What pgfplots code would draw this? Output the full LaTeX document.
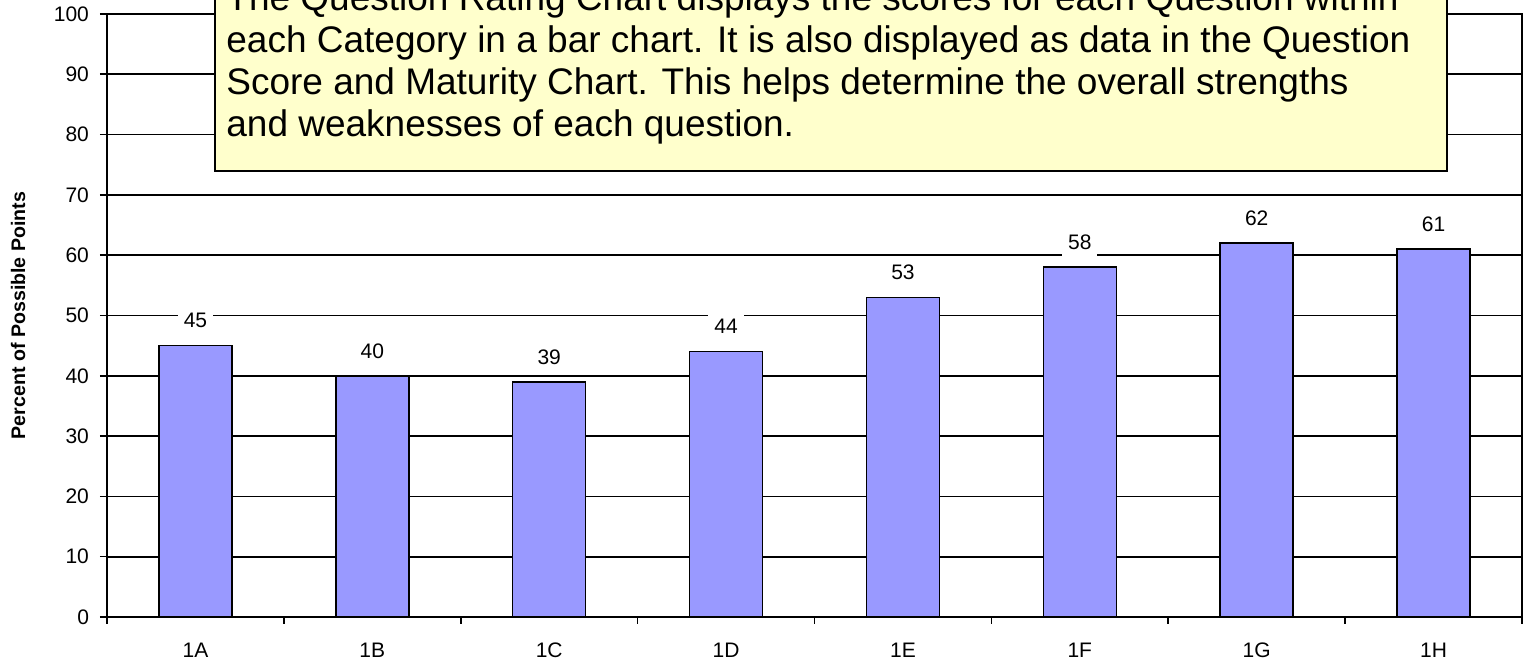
\documentclass[border=0pt]{standalone}
\usepackage{pgfplots}
\pgfplotsset{compat=1.18}
\usepackage{fontspec}
\setmainfont{Liberation Sans}
\definecolor{barblue}{RGB}{153,153,255}
\definecolor{noteyellow}{RGB}{255,255,204}
\begin{document}
\begin{tikzpicture}
\useasboundingbox (-53.5pt,-23pt) rectangle (710pt,308.5pt);
\clip (-53.5pt,-23pt) rectangle (710pt,308.5pt);
\begin{axis}[
  at={(0,0)}, anchor=south west,
  scale only axis, width=707.5pt, height=301.5pt,
  xmin=0, xmax=8, ymin=0, ymax=100,
  ybar, bar width=36.5pt,
  axis line style={line width=1pt},
  tick align=outside,
  xtick pos=bottom, ytick pos=left,
  major tick length=3.5pt,
  tick style={black, line width=0.8pt},
  xtick={0,1,...,8}, xticklabels={},
  extra x ticks={0.5,1.5,2.5,3.5,4.5,5.5,6.5,7.5},
  extra x tick labels={1A,1B,1C,1D,1E,1F,1G,1H},
  extra x tick style={major tick length=0pt, grid=none,
    tick label style={yshift=-9.5pt}},
  ytick={0,10,...,100},
  ymajorgrids,
  grid style={black, line width=0.85pt},
  tick label style={font=\fontsize{10.5}{12}\selectfont},
  yticklabel style={xshift=-2pt},
  /pgf/number format/assume math mode=true,
  ylabel={Percent of Possible Points},
  every axis y label/.style={at={(rel axis cs:0,0.5)}, xshift=-44.5pt,
    rotate=90, anchor=center, font=\fontsize{9.8}{11}\selectfont\bfseries},
  nodes near coords,
  every node near coord/.append style={anchor=center, yshift=12.5pt,
    fill=white, inner xsep=3pt, inner ysep=3.5pt, text=black,
    font=\fontsize{10.5}{12}\selectfont},
]
\addplot[draw=black, line width=0.8pt, fill=barblue] coordinates {
  (0.5,45) (1.5,40) (2.5,39) (3.5,44) (4.5,53) (5.5,58) (6.5,62) (7.5,61)
};
\end{axis}
\filldraw[fill=noteyellow, draw=black, line width=1pt] (54pt,223pt) rectangle (670pt,330pt);
\begin{scope}[every node/.style={anchor=base west, inner sep=0pt, font=\fontsize{18.5}{21}\selectfont}]
\node at (59.5pt,303pt) {The Question Rating Chart displays the scores for each Question within};
\node at (59.5pt,282pt) {each Category in a bar chart. It is also displayed as data in the Question};
\node at (59.5pt,261pt) {Score and Maturity Chart. This helps determine the overall strengths};
\node at (59.5pt,240pt) {and weaknesses of each question.};
\end{scope}
\end{tikzpicture}
\end{document}
